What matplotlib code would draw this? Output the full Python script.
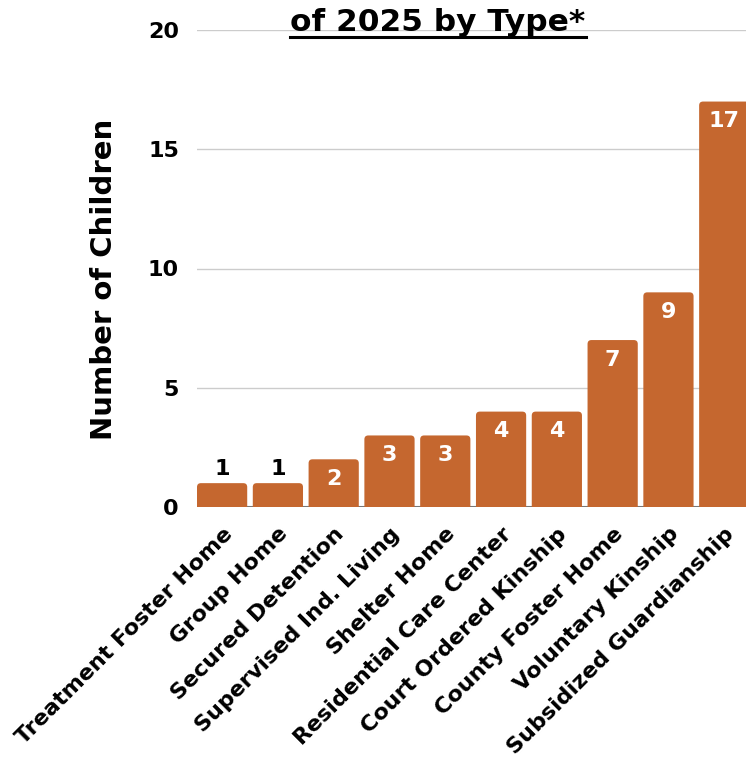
import matplotlib
matplotlib.use("Agg")
import matplotlib.pyplot as plt
from matplotlib.patches import FancyBboxPatch
from matplotlib.lines import Line2D

categories = [
    "Treatment Foster Home", "Group Home", "Secured Detention",
    "Supervised Ind. Living", "Shelter Home", "Residential Care Center",
    "Court Ordered Kinship", "County Foster Home", "Voluntary Kinship",
    "Subsidized Guardianship",
]
counts = [1, 1, 2, 3, 3, 4, 4, 7, 9, 17]
y_ticks = [0, 5, 10, 15, 20]

BAR_COLOR = "#C5672F"
FONT = ["DejaVu Sans"]

fig = plt.figure(figsize=(7.46, 7.61), dpi=100)
ax = fig.add_axes([197 / 746, 1 - 507 / 761, 549 / 746, 477 / 761])

xs = list(range(len(categories)))
bars = ax.bar(xs, counts, width=0.9, color=BAR_COLOR)

# swap plain rectangles for ones with softly rounded tops
for rect in bars:
    x, w, h = rect.get_x(), rect.get_width(), rect.get_height()
    rect.set_visible(False)
    ax.add_patch(FancyBboxPatch((x, -0.5), w, h + 0.5,
                                boxstyle="round,pad=0,rounding_size=0.07",
                                mutation_aspect=2.34, facecolor=BAR_COLOR,
                                edgecolor="none", zorder=2))

ax.set_xlim(-0.45, 9.39)
ax.set_ylim(0, 20)
ax.set_yticks(y_ticks)
ax.set_yticklabels([str(t) for t in y_ticks], fontsize=16, fontweight="bold",
                   family=FONT)
ax.tick_params(axis="y", length=0, pad=13)

ax.set_xticks(xs)
ax.set_xticklabels(categories, rotation=45, rotation_mode="anchor",
                   ha="right", va="top", fontsize=16, fontweight="bold",
                   family=FONT)
ax.tick_params(axis="x", length=0, pad=12)

ax.grid(axis="y", color="#cccccc", linewidth=1, zorder=0)
ax.set_axisbelow(True)
for s in ax.spines.values():
    s.set_visible(False)
ax.axhline(0, color="#777777", linewidth=1.5, zorder=1)

ax.set_ylabel("Number of Children", fontsize=21, fontweight="bold",
              family=FONT)
ax.yaxis.set_label_coords(-0.143, 0.478)

# value labels: inside the bar in white, above it in black when the bar is short
for x, v in zip(xs, counts):
    if v <= 1:
        ax.annotate(str(v), (x, v), xytext=(0, 3), textcoords="offset points",
                    ha="center", va="bottom", fontsize=16, fontweight="bold",
                    color="black", family=FONT)
    else:
        ax.annotate(str(v), (x, v), xytext=(0, -7), textcoords="offset points",
                    ha="center", va="top", fontsize=16, fontweight="bold",
                    color="white", family=FONT)

title = fig.text(438 / 746, 1 - 31 / 761, "of 2025 by Type*", ha="center",
                 va="baseline", fontsize=22.5, fontweight="bold", family=FONT)
fig.canvas.draw()
bb = title.get_window_extent().transformed(fig.transFigure.inverted())
uy = 1 - 37 / 761
fig.add_artist(Line2D([bb.x0, bb.x1], [uy, uy], color="black", linewidth=2.2,
                      transform=fig.transFigure))

fig.savefig("out.png", dpi=100)
